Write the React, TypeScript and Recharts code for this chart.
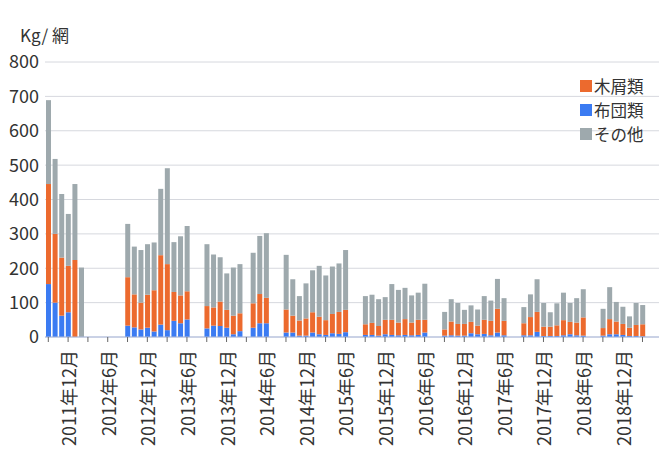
import React from "react";
import { BarChart, Bar, XAxis, YAxis, CartesianGrid } from "recharts";

// months from 2011/9 to 2019/5
const months: string[] = [];
for (let i = 0; i < 93; i++) {
  const m = 8 + i;
  months.push(`${2011 + Math.floor(m / 12)}年${(m % 12) + 1}月`);
}

const N = null;

// 布団類
const futon = [
  154, 100, 62, 72, 0, 0, N, N, N, N, N, N,
  33, 28, 22, 27, 16, 36, 20, 47, 40, 51, N, N,
  25, 33, 32, 27, 8, 17, N, 27, 40, 40, N, N,
  13, 13, 4, 4, 13, 8, 6, 11, 9, 14, N, N,
  6, 6, 4, 8, 6, 5, 6, 5, 6, 13, N, N,
  4, 5, 4, 4, 11, 8, 9, 5, 13, 5, N, N,
  5, 5, 15, 3, 3, 3, 5, 8, 5, 4, N, N,
  4, 8, 8, 6, 3, 3, 2, N, N,
];

// 木屑類
const wood = [
  291, 200, 169, 135, 224, 0, N, N, N, N, N, N,
  141, 96, 78, 96, 120, 202, 192, 84, 81, 82, N, N,
  65, 53, 71, 52, 54, 52, N, 71, 85, 74, N, N,
  67, 49, 44, 50, 59, 51, 43, 56, 64, 65, N, N,
  31, 35, 28, 42, 44, 37, 46, 37, 44, 37, N, N,
  18, 40, 34, 34, 33, 25, 41, 42, 69, 42, N, N,
  35, 53, 58, 27, 27, 31, 44, 36, 37, 53, N, N,
  22, 44, 37, 32, 24, 32, 35, N, N,
];

// その他
const other = [
  244, 218, 185, 151, 221, 202, N, N, N, N, N, N,
  155, 139, 153, 147, 139, 193, 279, 145, 172, 190, N, N,
  180, 154, 129, 106, 140, 143, N, 147, 169, 188, N, N,
  159, 106, 71, 102, 122, 148, 130, 138, 141, 174, N, N,
  82, 82, 78, 66, 104, 95, 91, 79, 79, 105, N, N,
  51, 65, 61, 41, 48, 47, 69, 59, 87, 66, N, N,
  47, 66, 95, 69, 42, 64, 80, 55, 71, 82, N, N,
  56, 93, 57, 50, 33, 64, 56, N, N,
];

const yTicks = [0, 100, 200, 300, 400, 500, 600, 700, 800];

const ORANGE = "#EC6A2E";
const BLUE = "#3B7BF2";
const GRAY = "#9EA9AD";
const FONT = "'Noto Sans CJK JP', 'Noto Sans', sans-serif";

const data = months.map((month, i) => ({
  month,
  futon: futon[i],
  wood: wood[i],
  other: other[i],
}));

const legendItems = [
  { name: "木屑類", color: ORANGE },
  { name: "布団類", color: BLUE },
  { name: "その他", color: GRAY },
];

const XTick = (props: any) => {
  const { x, y, payload } = props;
  const i = props.index ?? payload.index;
  const ty = y + 13;
  return (
    <g>
      {i % 3 === 0 && <line x1={x} x2={x} y1={y} y2={y + 5} stroke="#666" />}
      {i % 6 === 3 && (
        <text
          x={x}
          y={ty}
          transform={`rotate(-90 ${x} ${ty})`}
          textAnchor="end"
          dominantBaseline="central"
          fontSize={18}
          fill="#333"
          fontFamily={FONT}
        >
          {payload.value}
        </text>
      )}
    </g>
  );
};

export default function App() {
  return (
    <div style={{ position: "relative", width: 664, height: 461, background: "#fff", fontFamily: FONT }}>
      <style>{"body{margin:0}"}</style>
      <div style={{ position: "absolute", left: 20, top: 26, fontSize: 17, lineHeight: "18px", color: "#333" }}>Kg/ 網</div>
      <BarChart
        width={664}
        height={461}
        data={data}
        margin={{ top: 62, right: 5, left: 0, bottom: 0 }}
        barSize={5}
      >
        <CartesianGrid vertical={false} stroke="#d6d8de" />
        <XAxis
          dataKey="month"
          interval={0}
          height={124}
          tickLine={false}
          tickSize={0}
          tickMargin={0}
          axisLine={{ stroke: "#a9b8dc" }}
          tick={<XTick />}
        />
        <YAxis
          width={45}
          domain={[0, 800]}
          ticks={yTicks}
          tickLine={false}
          axisLine={false}
          tickSize={0}
          tickMargin={6}
          tick={{ fontSize: 18, fill: "#333", fontFamily: FONT }}
        />
        <Bar dataKey="futon" stackId="a" fill={BLUE} isAnimationActive={false} />
        <Bar dataKey="wood" stackId="a" fill={ORANGE} isAnimationActive={false} />
        <Bar dataKey="other" stackId="a" fill={GRAY} isAnimationActive={false} />
      </BarChart>
      <div style={{ position: "absolute", left: 580, top: 74 }}>
        {legendItems.map((item) => (
          <div key={item.name} style={{ display: "flex", alignItems: "center", height: 24, fontSize: 16.5, lineHeight: "17px", color: "#333" }}>
            <div style={{ width: 12, height: 12, background: item.color, marginRight: 2 }} />
            <span>{item.name}</span>
          </div>
        ))}
      </div>
    </div>
  );
}
